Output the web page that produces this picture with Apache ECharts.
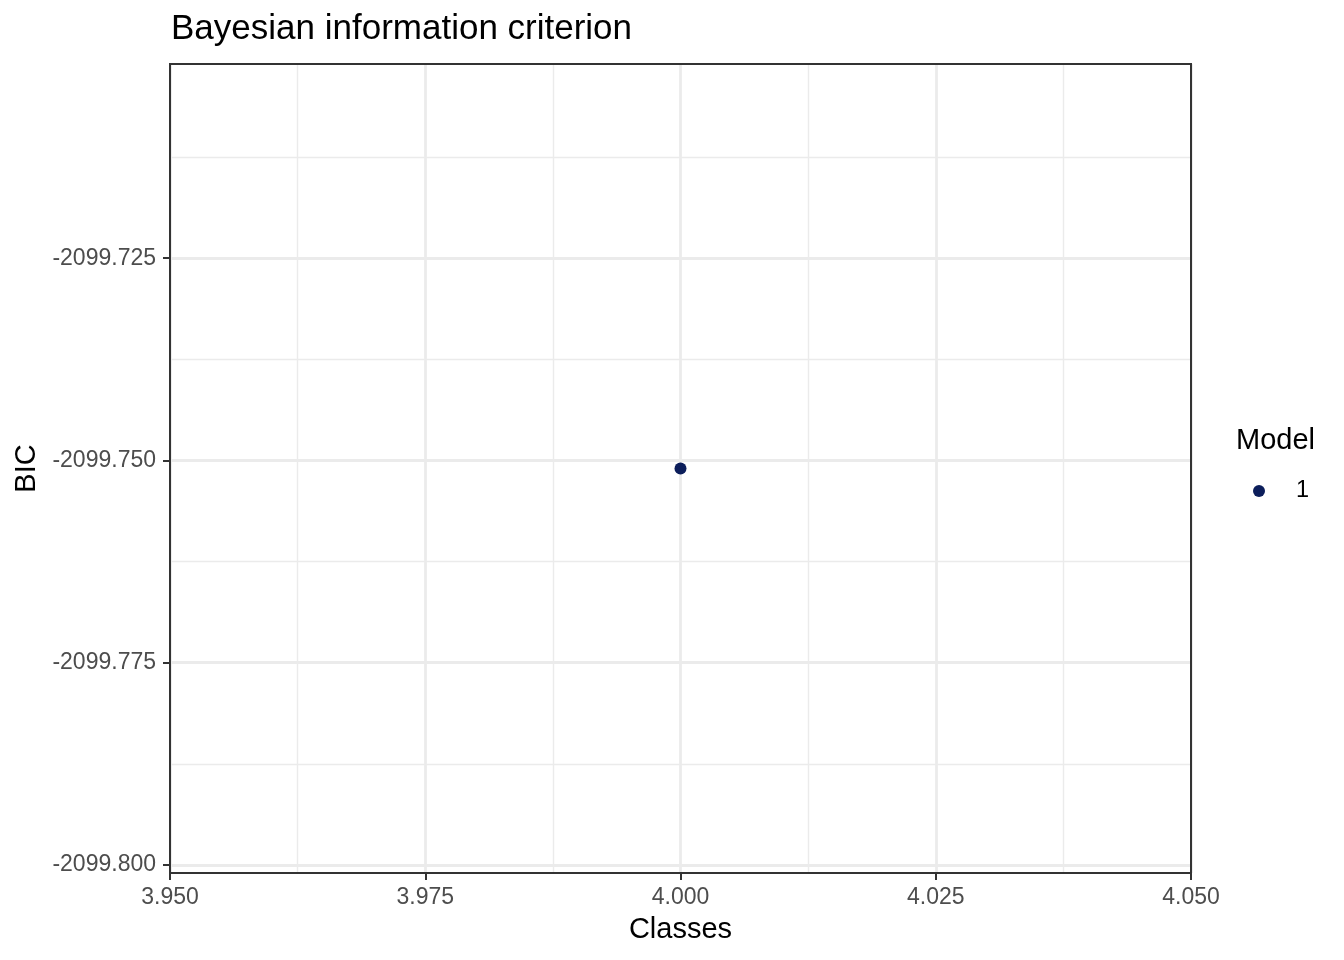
<!DOCTYPE html>
<html>
<head>
<meta charset="utf-8">
<script src="https://cdn.jsdelivr.net/npm/echarts@6/dist/echarts.min.js"></script>
<style>
  html, body { margin: 0; padding: 0; background: #fff; }
  #chart { width: 1344px; height: 960px; }
</style>
</head>
<body>
<div id="chart"></div>
<script>
// data
const seriesName = "1";
const classes = [4.0];
const bic = [-2099.751];

const xMajor = [3.95, 3.975, 4.0, 4.025, 4.05];
const xMinor = [3.9625, 3.9875, 4.0125, 4.0375];
const yMajor = [-2099.8, -2099.775, -2099.75, -2099.725];
const yMinor = [-2099.7875, -2099.7625, -2099.7375, -2099.7125];
const xRange = [3.95, 4.05];
const yRange = [-2099.801, -2099.701];

const font = "'Liberation Sans', Arial, sans-serif";

const chart = echarts.init(document.getElementById("chart"));

const option = {
  animation: false,
  backgroundColor: "#ffffff",
  title: [
    {
      text: "Bayesian information criterion",
      left: 171,
      top: 12,
      padding: 0,
      textStyle: { fontFamily: font, fontSize: 35, fontWeight: "normal", color: "#000" },
    },
    {
      text: "Model",
      left: 1236,
      top: 426,
      padding: 0,
      textStyle: { fontFamily: font, fontSize: 29, fontWeight: "normal", color: "#000" },
    },
  ],
  legend: {
    left: 1253,
    top: 479,
    padding: 0,
    itemWidth: 12,
    itemHeight: 12,
    data: [{ name: seriesName, icon: "circle", itemStyle: { opacity: 1 } }],
    textStyle: { fontFamily: font, fontSize: 23.5, color: "#000", padding: [0, 0, 0, 26] },
  },
  grid: {
    left: 170,
    right: 153,
    top: 64,
    bottom: 87,
    show: true,
    z: 10,
    backgroundColor: "transparent",
    borderColor: "#333333",
    borderWidth: 2,
  },
  xAxis: [
    {
      type: "value",
      min: xRange[0],
      max: xRange[1],
      name: "Classes",
      nameLocation: "middle",
      nameGap: 42,
      nameTextStyle: { fontFamily: font, fontSize: 29, color: "#000" },
      axisLine: { show: false },
      axisTick: { show: true, length: 7, lineStyle: { color: "#333333", width: 2 }, customValues: xMajor },
      axisLabel: {
        margin: 13,
        customValues: xMajor,
        fontFamily: font,
        fontSize: 23,
        color: "#4d4d4d",
        formatter: (v) => v.toFixed(3),
      },
      splitLine: { show: true, lineStyle: { color: "#ebebeb", width: 2.8 } },
    },
    {
      type: "value",
      min: xRange[0],
      max: xRange[1],
      position: "top",
      axisLine: { show: false },
      axisTick: { show: false, customValues: xMinor },
      axisLabel: { show: false, customValues: xMinor },
      splitLine: { show: true, lineStyle: { color: "#ebebeb", width: 1.4 } },
    },
  ],
  yAxis: [
    {
      type: "value",
      min: yRange[0],
      max: yRange[1],
      name: "BIC",
      nameLocation: "middle",
      nameGap: 125,
      nameTextStyle: { fontFamily: font, fontSize: 29, color: "#000" },
      axisLine: { show: false },
      axisTick: { show: true, length: 7, lineStyle: { color: "#333333", width: 2 }, customValues: yMajor },
      axisLabel: {
        margin: 14,
        customValues: yMajor,
        fontFamily: font,
        fontSize: 23,
        color: "#4d4d4d",
        formatter: (v) => v.toFixed(3),
      },
      splitLine: { show: true, lineStyle: { color: "#ebebeb", width: 2.8 } },
    },
    {
      type: "value",
      min: yRange[0],
      max: yRange[1],
      position: "right",
      axisLine: { show: false },
      axisTick: { show: false, customValues: yMinor },
      axisLabel: { show: false, customValues: yMinor },
      splitLine: { show: true, lineStyle: { color: "#ebebeb", width: 1.4 } },
    },
  ],
  series: [
    {
      name: seriesName,
      type: "scatter",
      xAxisIndex: 0,
      yAxisIndex: 0,
      symbol: "circle",
      symbolSize: 12,
      itemStyle: { color: "#0c1e5b", opacity: 1 },
      data: classes.map((c, i) => [c, bic[i]]),
    },
  ],
};

chart.setOption(option);
</script>
</body>
</html>
